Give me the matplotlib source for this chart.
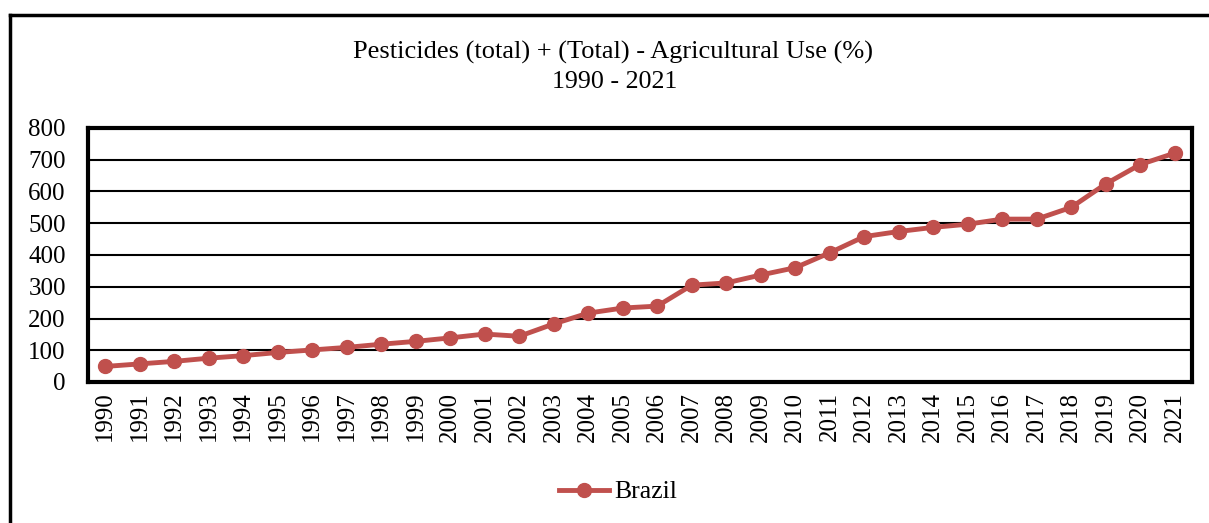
import matplotlib
matplotlib.use("Agg")
import matplotlib.pyplot as plt
from matplotlib.lines import Line2D

years = [str(y) for y in range(1990, 2022)]
brazil = [49, 57, 65, 75, 83, 93, 101, 109, 119, 128, 139, 151, 144, 183, 217, 233,
          239, 305, 312, 337, 360, 407, 458, 474, 487, 497, 513, 513, 550, 624, 685, 721]
yticks = [0, 100, 200, 300, 400, 500, 600, 700, 800]

plt.rcParams['font.family'] = ['Liberation Serif', 'DejaVu Serif']

fig = plt.figure(figsize=(12.09, 5.23), dpi=100)
ax = fig.add_axes([88/1209, 1-382/523, (1192-88)/1209, (382-128)/523])

x = list(range(len(years)))
ax.plot(x, brazil, color='#C0504D', lw=3.5, marker='o', ms=10, label='Brazil', zorder=3)

ax.set_xlim(-0.5, len(years)-0.5)
ax.set_ylim(0, 800)
ax.set_yticks(yticks)
ax.set_yticklabels([str(v) for v in yticks], fontsize=18)
ax.set_xticks(x)
ax.set_xticklabels(years, rotation=90, fontsize=18)
ax.tick_params(axis='y', length=0, pad=16)
ax.tick_params(axis='x', length=0, pad=7)
ax.grid(axis='y', color='black', lw=1.5)
ax.set_axisbelow(True)
for s in ax.spines.values():
    s.set_linewidth(3)
    s.set_color('black')

fig.text(0.507, 1-52/523, "Pesticides (total) + (Total) - Agricultural Use (%)", ha='center', va='center', fontsize=19)
fig.text(0.508, 1-82/523, "1990 - 2021", ha='center', va='center', fontsize=18.7)

leg = fig.legend(loc='center', bbox_to_anchor=(618/1209, 1-492/523), frameon=False, fontsize=18.5,
                 handlelength=1.95, handletextpad=0.23)

fig.add_artist(Line2D([10/1209, 10/1209], [0, 1-15/523], transform=fig.transFigure, color='black', lw=2.5))
fig.add_artist(Line2D([10/1209, 1], [1-15/523, 1-15/523], transform=fig.transFigure, color='black', lw=2.5))

fig.savefig('out.png', dpi=100)
